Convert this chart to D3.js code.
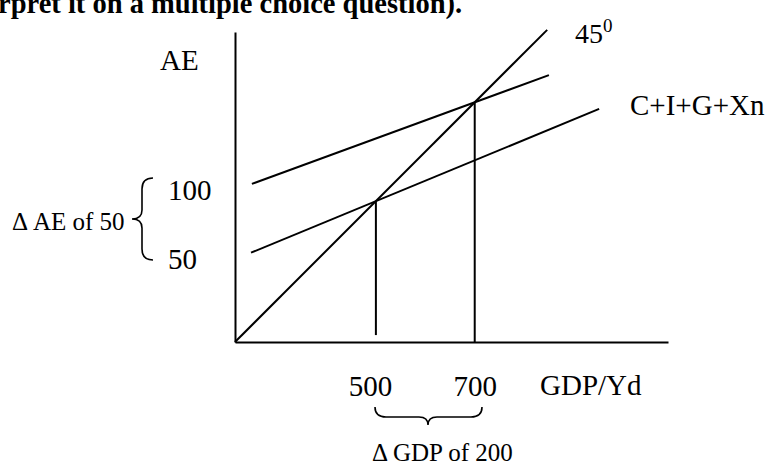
<!DOCTYPE html>
<html>
<head>
<meta charset="utf-8">
<script src="https://cdn.jsdelivr.net/npm/d3@7/dist/d3.min.js"></script>
<style>
  html, body { margin: 0; padding: 0; background: #fff; }
  svg { display: block; }
  text { font-family: "Liberation Serif", "Times New Roman", serif; fill: #000; }
</style>
</head>
<body>
<svg id="chart" width="775" height="464"></svg>
<script>
// ---- data (diagram units; 45° line is AE = Y) ----
const titleText = "rpret it on a multiple choice question).";
const aeNames = ["C+I+G+Xn (old)", "C+I+G+Xn"];
const aeIntercepts = [19.1, 35.1];      // AE at Y = 0
const aeSlopes = [0.413, 0.366];        // MPC-like slopes
const aeStartY = [3.7, 3.9];            // where each AE line begins (GDP units)
const aeEndY = [84.1, 72.5];            // where each AE line ends
const diagonalEnd = [72.1];             // 45° line extent
const gdpTickLabels = ["500", "700"];
const aeTickLabels = ["50", "100"];
const dropBottoms = [1.6, -0.2];
const xMax = 100, yMax = 71.6;

const svg = d3.select("#chart");
const x = d3.scaleLinear().domain([0, xMax]).range([235, 668]);
const y = d3.scaleLinear().domain([0, yMax]).range([342, 32]);

// title (cut off at top)
svg.append("text").attr("x", -2).attr("y", 13)
  .style("font-weight", "bold").style("font-size", "28.5px").text(titleText);

// equilibria
const eq = aeIntercepts.map((a, i) => a / (1 - aeSlopes[i]));

// axes
const xAxis = d3.axisBottom(x).tickValues(eq).tickSize(0).tickSizeOuter(0).tickPadding(33)
  .tickFormat((d, i) => gdpTickLabels[i]);
const gx = svg.append("g").attr("transform", `translate(0,${y(0)})`).call(xAxis);
gx.select(".domain").attr("stroke", "#000").attr("stroke-width", 2);
gx.selectAll(".tick text").style("font-size", "29px").attr("font-family", null)
  .attr("dx", (d, i) => i === 0 ? -6 : 0);

const yAxis = d3.axisLeft(y).tickValues(aeIntercepts).tickSize(0).tickSizeOuter(0).tickPadding(0)
  .tickFormat((d, i) => aeTickLabels[i]);
const gy = svg.append("g").attr("transform", `translate(${x(0)},0)`).call(yAxis);
gy.select(".domain").attr("stroke", "#000").attr("stroke-width", 2);
gy.selectAll(".tick text").style("font-size", "29px").attr("font-family", null)
  .attr("text-anchor", "start").attr("x", -67);

const line = d3.line().x(d => x(d[0])).y(d => y(d[1]));

// 45 degree line
svg.append("path").datum([[0, 0], [diagonalEnd[0], diagonalEnd[0]]])
  .attr("d", line).attr("stroke", "#000").attr("stroke-width", 2).attr("fill", "none");

// AE lines
aeIntercepts.forEach((a, i) => {
  const pts = [aeStartY[i], aeEndY[i]].map(v => [v, a + aeSlopes[i] * v]);
  svg.append("path").datum(pts).attr("d", line)
    .attr("stroke", "#000").attr("stroke-width", 2).attr("fill", "none");
});

// drop lines
eq.forEach((e, i) => {
  svg.append("path").datum([[e, e], [e, dropBottoms[i]]]).attr("d", line)
    .attr("stroke", "#000").attr("stroke-width", 2).attr("fill", "none");
});

// labels
svg.append("text").attr("x", 160).attr("y", 70).style("font-size", "29px").text("AE");
svg.append("text").attr("x", 575).attr("y", 43).style("font-size", "28px").text("45");
svg.append("text").attr("x", 603).attr("y", 32).style("font-size", "19px").text("0");
svg.append("text").attr("x", 630).attr("y", 115).style("font-size", "29px").text(aeNames[1]);
svg.append("text").attr("x", 540).attr("y", 395).style("font-size", "29px").text("GDP/Yd");
svg.append("text").attr("x", 12).attr("y", 230).style("font-size", "25px").text("\u0394 AE of 50");
svg.append("text").attr("x", 372).attr("y", 461).style("font-size", "25px").text("\u0394 GDP of 200");

// braces
const bx0 = 153, by0 = 178, by1 = 260, bxm = 142, bxt = 132, bym = (by0 + by1) / 2;
svg.append("path")
  .attr("d", `M${bx0},${by0} Q${bxm},${by0} ${bxm},${by0 + 11} L${bxm},${bym - 9} Q${bxm},${bym} ${bxt},${bym} Q${bxm},${bym} ${bxm},${bym + 9} L${bxm},${by1 - 11} Q${bxm},${by1} ${bx0},${by1}`)
  .attr("stroke", "#000").attr("stroke-width", 1.6).attr("fill", "none");

const hx0 = 375, hx1 = 482, hy0 = 407, hym = 417, hyt = 425, hxm = 428;
svg.append("path")
  .attr("d", `M${hx0},${hy0} Q${hx0},${hym} ${hx0 + 11},${hym} L${hxm - 9},${hym} Q${hxm},${hym} ${hxm},${hyt} Q${hxm},${hym} ${hxm + 9},${hym} L${hx1 - 11},${hym} Q${hx1},${hym} ${hx1},${hy0}`)
  .attr("stroke", "#000").attr("stroke-width", 1.6).attr("fill", "none");
</script>
</body>
</html>
